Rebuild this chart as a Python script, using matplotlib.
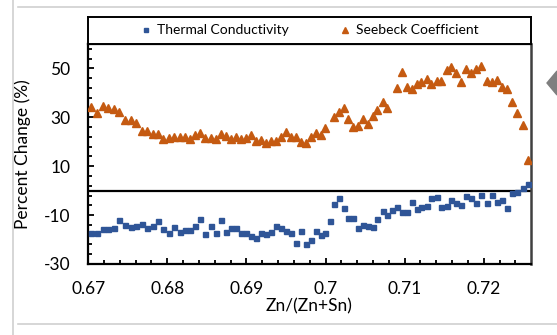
import matplotlib
matplotlib.use('Agg')
import matplotlib.pyplot as plt
import numpy as np
from matplotlib.ticker import FixedLocator, FuncFormatter
from matplotlib.lines import Line2D
from matplotlib.patches import Polygon

plt.rcParams['font.family'] = ['Lato', 'DejaVu Sans']
plt.rcParams['axes.unicode_minus'] = False

# Zn/(Zn+Sn) composition
zn_ratio = [0.67032, 0.67107, 0.67183, 0.67254, 0.67326, 0.67393, 0.67461, 0.67537, 0.67608, 0.67676,
            0.67747, 0.67815, 0.67882, 0.67949, 0.68018, 0.68088, 0.68157, 0.68220, 0.68283, 0.68354,
            0.68413, 0.68480, 0.68549, 0.68612, 0.68679, 0.68742, 0.68809, 0.68869, 0.68936, 0.68999,
            0.69062, 0.69125, 0.69188, 0.69252, 0.69315, 0.69378, 0.69441, 0.69504, 0.69568, 0.69627,
            0.69690, 0.69753, 0.69813, 0.69876, 0.69939, 0.69997, 0.70057, 0.70104, 0.70167, 0.70230,
            0.70284, 0.70351, 0.70415, 0.70474, 0.70537, 0.70597, 0.70655, 0.70723, 0.70777, 0.70841,
            0.70900, 0.70963, 0.71030, 0.71090, 0.71153, 0.71211, 0.71279, 0.71338, 0.71406, 0.71464,
            0.71532, 0.71590, 0.71654, 0.71717, 0.71780, 0.71843, 0.71906, 0.71970, 0.72038, 0.72101,
            0.72164, 0.72231, 0.72298, 0.72362, 0.72425, 0.72493, 0.72560]

# Percent change of thermal conductivity
thermal_conductivity = [-17.3, -17.2, -15.8, -15.7, -15.4, -12.0, -13.9, -15.0, -14.3, -13.6,
                        -15.3, -14.3, -12.3, -15.7, -17.2, -15.0, -16.9, -16.2, -16.1, -14.5,
                        -11.6, -17.7, -14.3, -17.2, -12.1, -16.8, -15.2, -15.4, -17.5, -17.3,
                        -18.6, -19.4, -17.5, -17.6, -16.9, -14.3, -15.4, -16.6, -17.2, -21.5,
                        -16.6, -22.0, -20.3, -16.5, -18.3, -17.3, -12.4, -5.5, -3.0, -7.1,
                        -11.3, -11.3, -15.4, -13.9, -14.5, -15.0, -11.6, -8.3, -9.8, -7.8,
                        -6.8, -8.6, -8.9, -4.8, -7.4, -6.8, -6.3, -2.9, -2.7, -6.6,
                        -6.4, -4.0, -4.9, -6.0, -2.3, -3.1, -4.9, -1.9, -5.1, -1.7,
                        -4.8, -4.0, -7.2, -0.8, -0.7, 1.2, 2.8]

# Percent change of Seebeck coefficient (nan = no point)
seebeck_coefficient = [34.4, 31.9, 34.6, 33.9, 33.5, 32.3, 28.9, 28.8, 27.8, 24.4,
                       24.4, 23.2, 23.0, 21.0, 21.5, 21.9, 22.1, 22.1, 21.3, 22.8,
                       23.5, 21.7, 21.7, 21.0, 23.2, 22.2, 21.1, 21.9, 21.3, 21.7,
                       22.6, 20.4, 20.7, 19.4, 20.4, 20.4, 21.9, 24.0, 22.1, 22.1,
                       19.8, 19.5, 21.8, 23.6, 22.8, 25.5, np.nan, 30.0, 32.3, 33.8,
                       29.4, 25.9, 26.6, 29.2, 27.3, 30.7, 33.1, 36.4, 33.8, np.nan,
                       42.1, 48.5, 42.4, 41.5, 43.6, 44.5, 45.7, 43.8, 44.9, 44.9,
                       49.5, 50.5, 48.1, 44.3, 49.9, 48.1, 49.9, 51.0, 44.9, 44.3,
                       45.1, 42.5, 41.6, 36.3, 31.6, 26.9, 12.5]

y_major = [-30, -10, 10, 30, 50]
x_major = [0.67, 0.68, 0.69, 0.70, 0.71, 0.72]

BLUE = '#2F5597'
ORANGE = '#C55A11'

W, H = 557, 335
fig = plt.figure(figsize=(W / 100, H / 100), dpi=100)

def fx(px):
    return px / W

def fy(py):
    return 1 - py / H

L, R, T, B = 88.2, 530.7, 44, 264
ax = fig.add_axes([fx(L), fy(B), fx(R) - fx(L), fy(T) - fy(B)])

ax.plot(zn_ratio, thermal_conductivity, ls='none', marker='s', ms=3.6, color=BLUE,
        mec=BLUE, label='Thermal Conductivity', zorder=3)
ax.plot(zn_ratio, seebeck_coefficient, ls='none', marker='^', ms=5.2, color=ORANGE,
        mec=ORANGE, label='Seebeck Coefficient', zorder=3)
ax.axhline(0, color='black', lw=1.6, zorder=2)

ax.set_xlim(0.67, 0.72594)
ax.set_ylim(-30, 60)
ax.yaxis.set_major_locator(FixedLocator(y_major))
ax.yaxis.set_minor_locator(FixedLocator(np.arange(-30, 61, 4)))
ax.xaxis.set_major_locator(FixedLocator(x_major))
ax.xaxis.set_minor_locator(FixedLocator(np.arange(0.67, 0.7261, 0.002)))
ax.xaxis.set_major_formatter(FuncFormatter(lambda v, p: f"{round(v, 2):g}"))
ax.yaxis.set_major_formatter(FuncFormatter(lambda v, p: f"{int(round(v))}"))

ax.tick_params(axis='both', which='both', direction='in', colors='black', width=1.3)
ax.tick_params(axis='both', which='major', length=4.5, labelsize=12.5)
ax.tick_params(axis='both', which='minor', length=3.2)
ax.tick_params(axis='y', which='major', pad=13)
ax.tick_params(axis='x', which='major', pad=12)

for s in ['left', 'bottom', 'top']:
    ax.spines[s].set_color('black')
    ax.spines[s].set_linewidth(1.6)
ax.spines['right'].set_color('#404040')
ax.spines['right'].set_linewidth(1.8)

ax.set_xlabel('Zn/(Zn+Sn)', fontsize=12.5)
ax.xaxis.set_label_coords(0.5, (B - 298) / (B - T))
ax.set_ylabel('Percent Change (%)', fontsize=12.5)
ax.yaxis.set_label_coords((31 - L) / (R - L), 0.5)

# legend box above plot
lax = fig.add_axes([fx(L), fy(T), fx(R) - fx(L), fy(17) - fy(T)])
lax.set_xticks([])
lax.set_yticks([])
for s in lax.spines.values():
    s.set_color('black')
    s.set_linewidth(1.4)
handles = [Line2D([], [], ls='none', marker='s', ms=3.2, color=BLUE),
           Line2D([], [], ls='none', marker='^', ms=4.5, color=ORANGE)]
lax.legend(handles, ['Thermal Conductivity', 'Seebeck Coefficient'], loc='center',
           ncol=2, frameon=False, fontsize=10, handlelength=0.8, handletextpad=0.4,
           columnspacing=3.6, borderaxespad=0)

# screenshot chrome
fig.add_artist(Line2D([fx(13), fx(13)], [0, 1], color='#d0d0d0', lw=1.2))
fig.add_artist(Line2D([fx(18), 1], [fy(7), fy(7)], color='#d0d0d0', lw=1.2))
fig.add_artist(Line2D([fx(18), 1], [fy(324), fy(324)], color='#d0d0d0', lw=1.2))
fig.add_artist(Polygon([[fx(547), fy(83)], [fx(557), fy(71)], [fx(557), fy(95)]],
                       closed=True, color='#7f7f7f', transform=fig.transFigure))

fig.savefig('out.png', dpi=100)
